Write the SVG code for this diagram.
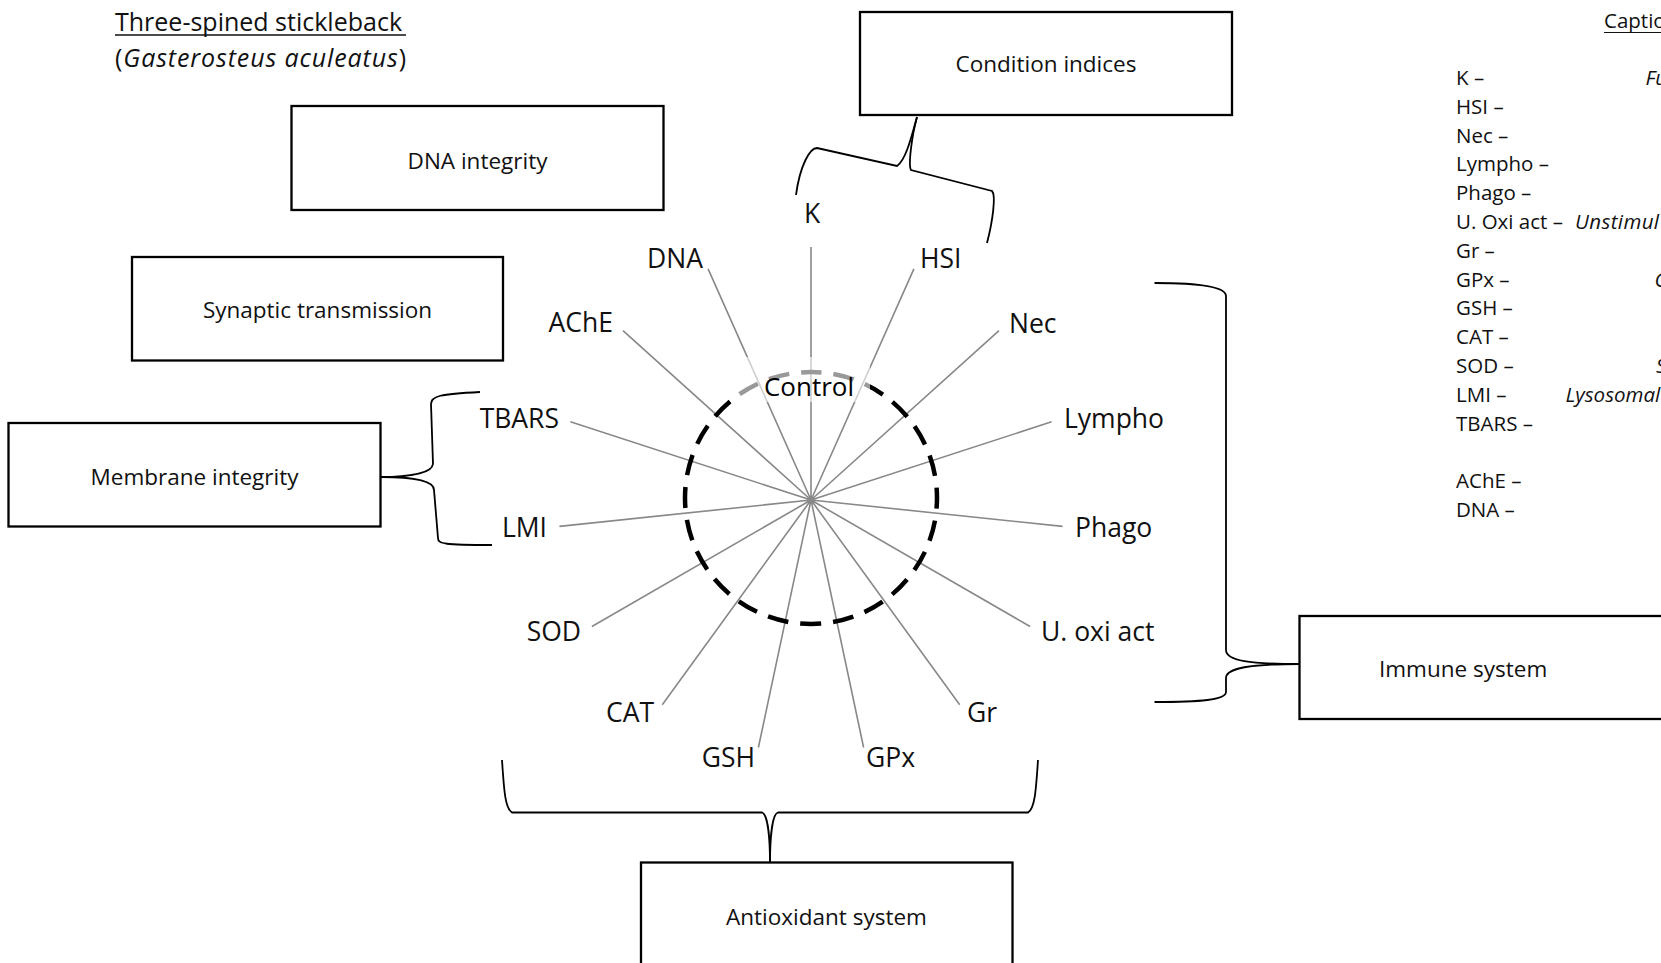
<svg xmlns="http://www.w3.org/2000/svg" width="1661" height="963" viewBox="0 0 1661 963">
<style>
text{font-family:"Open Sans","Noto Sans","Liberation Sans",sans-serif;fill:#111}
.box{fill:#fff;stroke:#000;stroke-width:2.3}
.bt{font-size:22.5px;text-anchor:middle}
.lab{font-size:26.5px}
.cap{font-size:20.5px}
.it{font-style:italic}
.spoke{stroke:#888;stroke-width:1.6;fill:none}
.brace{stroke:#000;stroke-width:1.8;fill:none}
.end{text-anchor:end}
.mid{text-anchor:middle}
</style>
<rect width="1661" height="963" fill="#fff"/>

<g id="title">
<text x="115" y="31" style="font-size:25px">Three-spined stickleback</text>
<line x1="115" y1="35" x2="406" y2="35" stroke="#111" stroke-width="1.3"/>
<text x="115" y="67" style="font-size:25px" textLength="291" lengthAdjust="spacing">(<tspan class="it">Gasterosteus aculeatus</tspan>)</text>
</g>

<g id="connectors">
<path class="spoke" d="M811,500L811,247M811,500L913.9,268.9M811,500L999,330.7M811,500L1051.6,421.8M811,500L1062.6,526.4M811,500L1030.1,626.5M811,500L959.7,704.7M811,500L863.6,747.5M811,500L758.4,747.5M811,500L662.3,704.7M811,500L591.9,626.5M811,500L559.4,526.4M811,500L570.4,421.8M811,500L623,330.7M811,500L708.1,268.9"/>
<path d="M811,372A126,126 0 0 1 811,624A126,126 0 0 1 811,372Z" fill="none" stroke="#000" stroke-width="4.5" stroke-dasharray="21 12" stroke-dashoffset="10.5"/>
<path class="brace" d="M917,117C912,135 906,160 897,166L817,148C810,148 800,165 796,195"/>
<path class="brace" d="M917,117C912,135 908,165 911,170L992,191C996,195 993,220 987,243"/>
<path class="brace" d="M381,477C410,477 432,473 433,464L431,404C431,396 440,394 480,392"/>
<path class="brace" d="M381,477C410,477 434,480 434,490L438,538C438,544 444,545 492,545"/>
<path class="brace" d="M1154.5,283C1200,283 1226,287 1226,296L1226,650C1226,661 1250,664 1300,664"/>
<path class="brace" d="M1300,664C1250,664 1226,668 1226,678L1226,692C1226,700 1200,702 1154.5,702"/>
<path class="brace" d="M502,760C504,790 505,808 512,812.5L762,812.5C768,814 770,840 770,863"/>
<path class="brace" d="M770,863C770,840 772,814 778,812.5L1028,812.5C1035,808 1036,790 1038,760"/>
</g>

<g id="control">
<rect x="733" y="357" width="137" height="45" fill="#fff" fill-opacity="0.6"/>
<text x="809" y="396" class="mid" style="font-size:26px;fill:#000">Control</text>
</g>

<g id="spoke-labels" class="lab">
<text x="812" y="223" class="mid">K</text>
<text x="920" y="268">HSI</text>
<text x="1009" y="332.5">Nec</text>
<text x="1064" y="428">Lympho</text>
<text x="1075" y="536.5">Phago</text>
<text x="1041" y="641">U. oxi act</text>
<text x="967" y="722">Gr</text>
<text x="866" y="767">GPx</text>
<text x="755" y="767" class="end">GSH</text>
<text x="654" y="722" class="end">CAT</text>
<text x="581" y="641" class="end">SOD</text>
<text x="547" y="536.5" class="end">LMI</text>
<text x="559" y="428" class="end">TBARS</text>
<text x="613" y="332" class="end">AChE</text>
<text x="703" y="268" class="end">DNA</text>
</g>

<g id="condition-indices">
<rect class="box" x="860" y="12" width="372" height="103"/>
<text class="bt" x="1046" y="71.5">Condition indices</text>
</g>
<g id="dna-integrity">
<rect class="box" x="291.5" y="106" width="372" height="104"/>
<text class="bt" x="477.5" y="169">DNA integrity</text>
</g>
<g id="synaptic-transmission">
<rect class="box" x="132" y="257" width="371" height="103.5"/>
<text class="bt" x="317.5" y="318">Synaptic transmission</text>
</g>
<g id="membrane-integrity">
<rect class="box" x="8.5" y="423" width="372" height="103.5"/>
<text class="bt" x="194.5" y="485">Membrane integrity</text>
</g>
<g id="immune-system">
<rect class="box" x="1299.5" y="616" width="380" height="103"/>
<text x="1379" y="676.5" style="font-size:22.5px">Immune system</text>
</g>
<g id="antioxidant-system">
<rect class="box" x="641" y="862.5" width="371.5" height="120"/>
<text class="bt" x="826.5" y="925">Antioxidant system</text>
</g>

<g id="caption" class="cap">
<text x="1604" y="28">Captio</text>
<line x1="1604" y1="32.5" x2="1661" y2="32.5" stroke="#111" stroke-width="1.2"/>
<text x="1456" y="85">K –</text>
<text x="1456" y="113.8">HSI –</text>
<text x="1456" y="142.6">Nec –</text>
<text x="1456" y="171.4">Lympho –</text>
<text x="1456" y="200.2">Phago –</text>
<text x="1456" y="229">U. Oxi act –</text>
<text x="1456" y="257.8">Gr –</text>
<text x="1456" y="286.6">GPx –</text>
<text x="1456" y="315.4">GSH –</text>
<text x="1456" y="344.2">CAT –</text>
<text x="1456" y="373">SOD –</text>
<text x="1456" y="401.8">LMI –</text>
<text x="1456" y="430.6">TBARS –</text>
<text x="1456" y="488.2">AChE –</text>
<text x="1456" y="517">DNA –</text>
<text x="1645.5" y="85" class="it">Fu</text>
<text x="1575" y="229" class="it" textLength="84" lengthAdjust="spacing">Unstimul</text>
<text x="1654.5" y="286.6" class="it">G</text>
<text x="1656" y="373" class="it">S</text>
<text x="1565.5" y="401.8" class="it">Lysosomal</text>
</g>
</svg>
